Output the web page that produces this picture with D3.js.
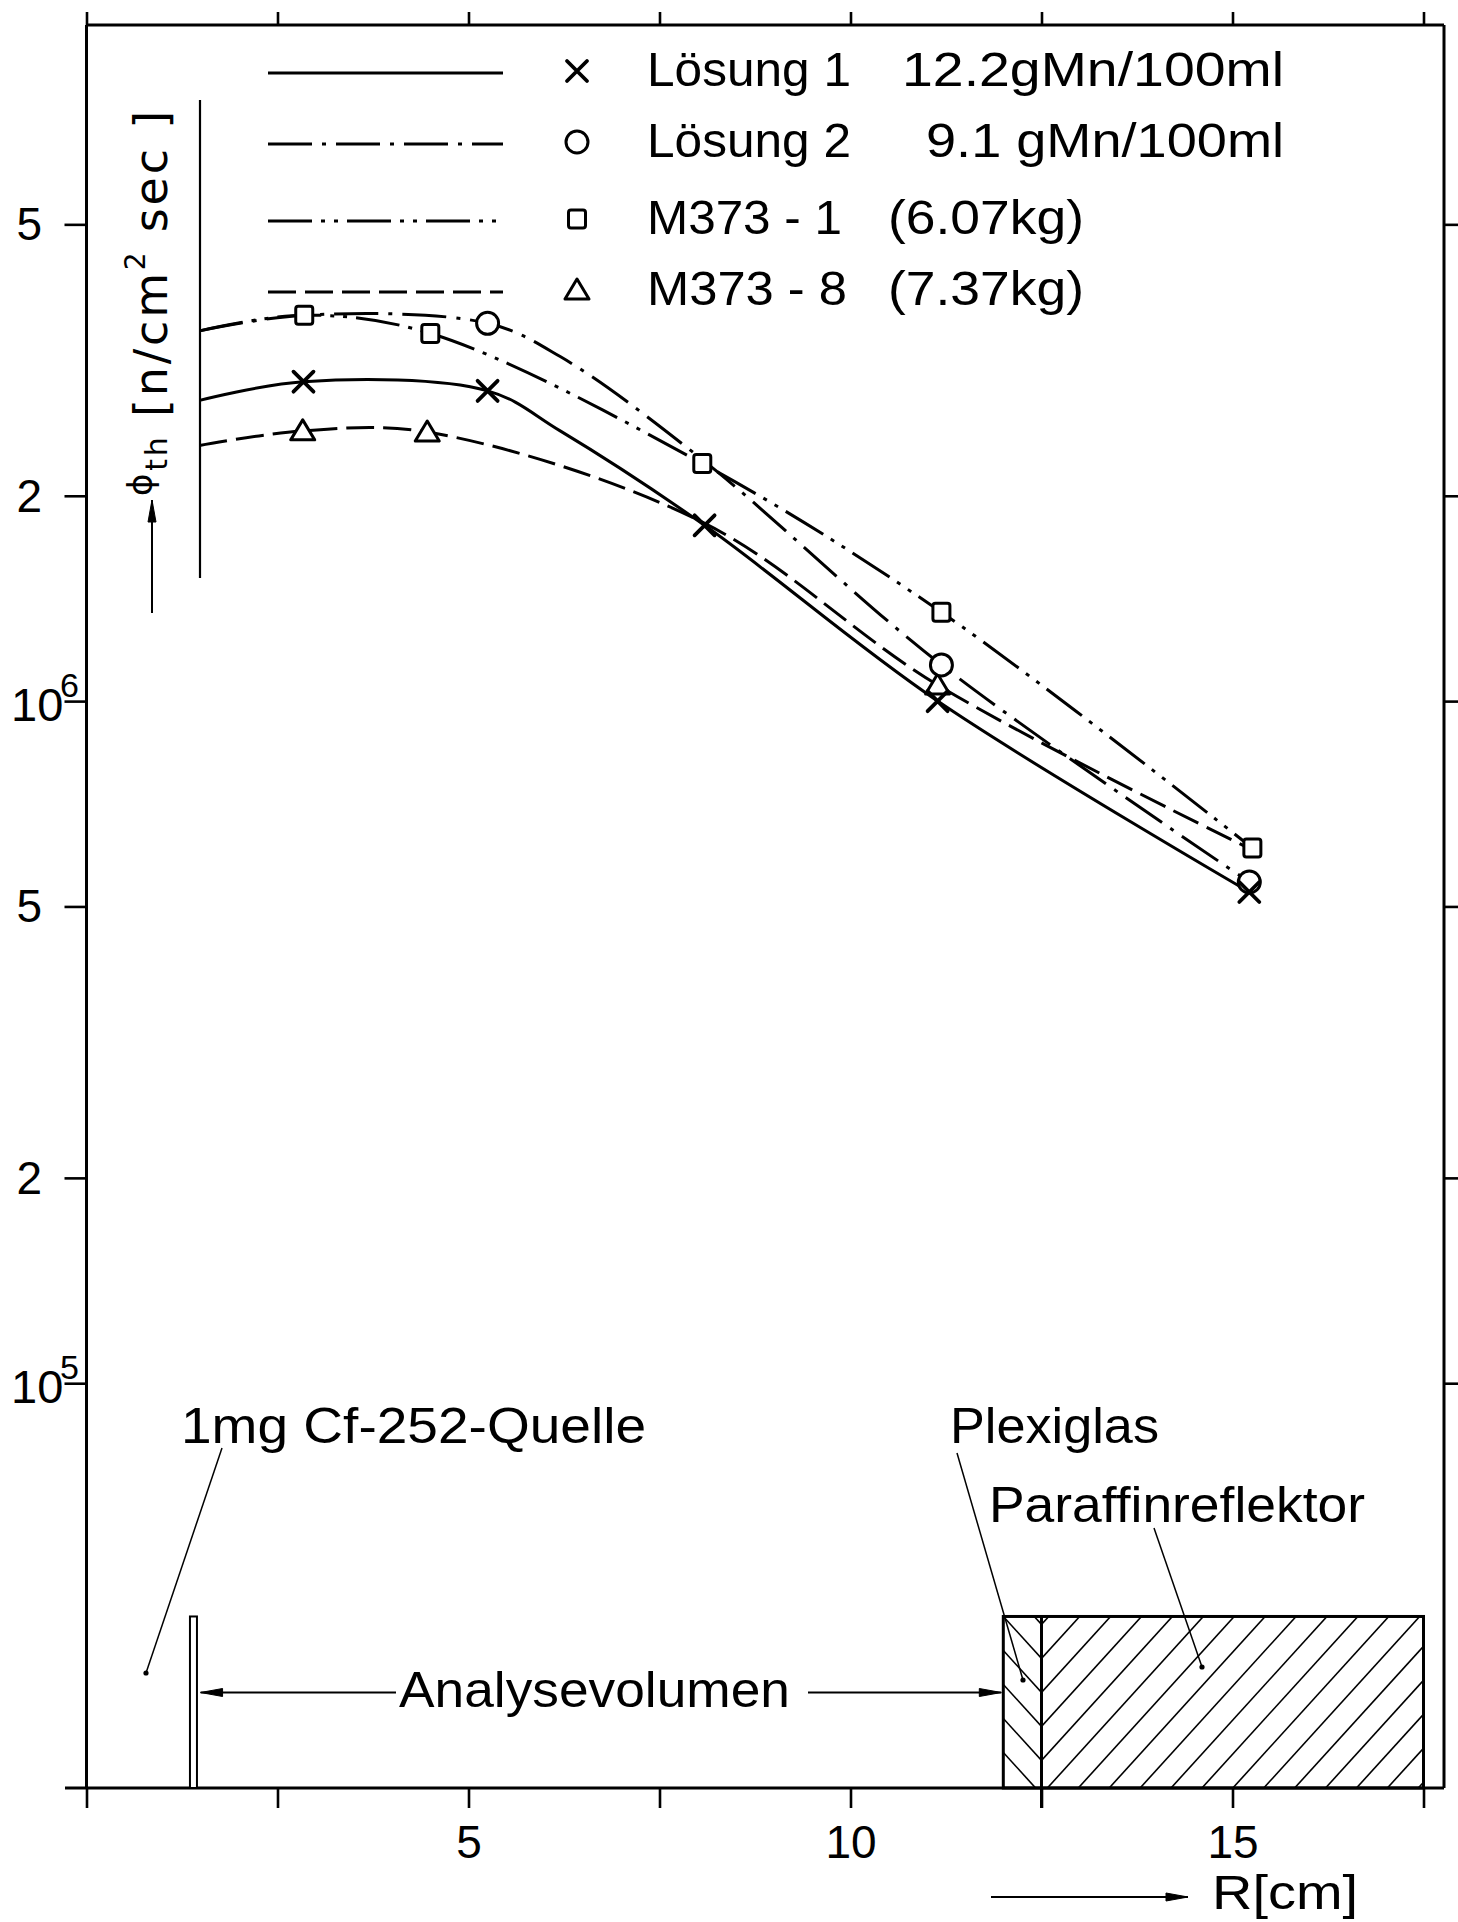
<!DOCTYPE html>
<html>
<head>
<meta charset="utf-8">
<script src="https://cdn.jsdelivr.net/npm/d3@7"></script>
<style>
  html, body { margin: 0; padding: 0; background: #ffffff; }
  svg { display: block; }
</style>
</head>
<body>
<svg id="chart" width="1458" height="1922"></svg>
<script>
// ------------------------------------------------------------------
// DATA
// ------------------------------------------------------------------
const xTicks = [0, 2.5, 5, 7.5, 10, 12.5, 15, 17.5];
const xTickLabels = ["", "", "5", "", "10", "", "15", ""];
const yTicks = [5e6, 2e6, 1e6, 5e5, 2e5, 1e5];
const yTickBase = ["5", "2", "10", "5", "2", "10"];
const yTickExp  = ["", "", "6", "", "", "5"];

const seriesNames = ["Lösung 1", "Lösung 2", "M373 - 1", "M373 - 8"];
const seriesNotes = ["12.2gMn/100ml", "9.1 gMn/100ml", "(6.07kg)", "(7.37kg)"];
const seriesMarkers = ["x", "o", "s", "t"];

// smooth curve support points  [R in cm, flux n/cm2 sec]
const loesung1Curve = [[1.48, 2.76e6], [2.84, 2.94e6], [5.25, 2.85e6], [6.2, 2.49e6], [8.09, 1.81e6], [11.14, 1.00e6], [15.22, 5.25e5]];
const loesung2Curve = [[1.48, 3.49e6], [2.85, 3.68e6], [5.25, 3.58e6], [6.2, 3.2e6], [8.06, 2.26e6], [11.19, 1.13e6], [15.22, 5.43e5]];
const m373_1Curve   = [[1.48, 3.49e6], [2.85, 3.68e6], [4.50, 3.46e6], [8.06, 2.23e6], [11.19, 1.35e6], [15.26, 6.09e5]];
const m373_8Curve   = [[1.48, 2.37e6], [2.83, 2.49e6], [4.46, 2.48e6], [8.06, 1.83e6], [11.14, 1.056e6], [15.26, 6.05e5]];

// measured points (markers)
const loesung1Points = [[2.84, 2.94e6], [5.25, 2.85e6], [8.09, 1.81e6], [11.14, 1.00e6], [15.22, 5.25e5]];
const loesung2Points = [[5.25, 3.58e6], [11.19, 1.13e6], [15.22, 5.43e5]];
const m373_1Points   = [[2.85, 3.68e6], [4.50, 3.46e6], [8.06, 2.23e6], [11.19, 1.35e6], [15.26, 6.09e5]];
const m373_8Points   = [[2.83, 2.49e6], [4.46, 2.48e6], [11.14, 1.056e6]];

// geometry annotations (in data units)
const sourceR = 1.40;
const analysisFromR = 1.48, analysisToR = 12.0;
const plexiglasR = [12.0, 12.5];
const paraffinR = [12.5, 17.5];
const structureTop = 4.55e4;
const analysisLevel = 3.52e4;

// ------------------------------------------------------------------
// LAYOUT
// ------------------------------------------------------------------
const svg = d3.select("#chart");
const FONT = "'Liberation Sans', Arial, sans-serif";
const yMin = 2.55e4, yMax = 9.8e6;
const x = d3.scaleLinear().domain([0, 17.5]).range([86.5, 1423.5]);
const y = d3.scaleLog().domain([yMin, yMax]).range([1788, 25]);
const frameLeft = x(0), frameRight = 1444, frameTop = y(yMax), frameBottom = y(yMin);

// ------------------------------------------------------------------
// AXES
// ------------------------------------------------------------------
function styleAxis(g) {
  g.select(".domain").remove();
  g.selectAll(".tick line").attr("stroke", "#000").attr("stroke-width", 2.6);
}

const gBottom = svg.append("g").attr("transform", `translate(0,${frameBottom})`)
  .call(d3.axisBottom(x).tickValues(xTicks).tickSize(20).tickPadding(17)
    .tickFormat((d, i) => xTickLabels[i]));
styleAxis(gBottom);
gBottom.selectAll(".tick text").attr("font-family", FONT).attr("font-size", 46).attr("fill", "#000");

const gTop = svg.append("g").attr("transform", `translate(0,${frameTop})`)
  .call(d3.axisTop(x).tickValues(xTicks).tickSize(13).tickFormat(""));
styleAxis(gTop);

const gLeft = svg.append("g").attr("transform", `translate(${frameLeft},0)`)
  .call(d3.axisLeft(y).tickValues(yTicks).tickSize(22).tickFormat(""));
styleAxis(gLeft);

const gRight = svg.append("g").attr("transform", `translate(${frameRight},0)`)
  .call(d3.axisRight(y).tickValues(yTicks).tickSize(14).tickFormat(""));
styleAxis(gRight);

// y tick labels with superscript exponents
yTicks.forEach((v, i) => {
  const ty = y(v);
  if (yTickExp[i] === "") {
    svg.append("text").attr("x", 42).attr("y", ty + 16)
      .attr("text-anchor", "end").attr("font-family", FONT).attr("font-size", 46)
      .text(yTickBase[i]);
  } else {
    svg.append("text").attr("x", 11).attr("y", ty + 20)
      .attr("font-family", FONT).attr("font-size", 47).text(yTickBase[i]);
    svg.append("text").attr("x", 60).attr("y", ty - 4)
      .attr("font-family", FONT).attr("font-size", 34).text(yTickExp[i]);
  }
});

// frame
const frame = svg.append("g").attr("stroke", "#000").attr("stroke-width", 3).attr("fill", "none");
frame.append("line").attr("x1", frameLeft).attr("x2", frameLeft).attr("y1", frameTop).attr("y2", frameBottom);
frame.append("line").attr("x1", frameRight).attr("x2", frameRight).attr("y1", frameTop).attr("y2", frameBottom);
frame.append("line").attr("x1", frameLeft).attr("x2", frameRight).attr("y1", frameTop).attr("y2", frameTop);
frame.append("line").attr("x1", 65).attr("x2", frameRight).attr("y1", frameBottom).attr("y2", frameBottom);

// ------------------------------------------------------------------
// ARROW HELPER
// ------------------------------------------------------------------
function arrowHead(x1, y1, x2, y2, len, half) {
  const a = Math.atan2(y2 - y1, x2 - x1);
  const bx = x2 - len * Math.cos(a), by = y2 - len * Math.sin(a);
  const px = -Math.sin(a) * half, py = Math.cos(a) * half;
  svg.append("path")
    .attr("d", `M${x2},${y2}L${bx + px},${by + py}L${bx - px},${by - py}Z`)
    .attr("fill", "#000").attr("stroke", "#000").attr("stroke-width", 1);
}
function arrow(x1, y1, x2, y2, w) {
  svg.append("line").attr("x1", x1).attr("y1", y1).attr("x2", x2).attr("y2", y2)
    .attr("stroke", "#000").attr("stroke-width", w || 2);
  arrowHead(x1, y1, x2, y2, 22, 4);
}

// ------------------------------------------------------------------
// Y AXIS TITLE
// ------------------------------------------------------------------
svg.append("line").attr("x1", 200).attr("x2", 200).attr("y1", 100).attr("y2", 578)
  .attr("stroke", "#000").attr("stroke-width", 2.2);
arrow(152, 613, 152, 500, 2);
const yl = svg.append("text").attr("transform", "translate(167,496) rotate(-90)")
  .attr("font-family", "'DejaVu Sans', sans-serif").attr("font-size", 46).attr("letter-spacing", 2.8);
yl.append("tspan").attr("font-size", 34).attr("dy", -15).text("ϕ");
yl.append("tspan").attr("font-size", 30).attr("dy", 15).text("th");
yl.append("tspan").text(" [n/cm");
yl.append("tspan").attr("font-size", 28).attr("dy", -22).text("2");
yl.append("tspan").attr("dy", 22).text(" sec ]");

// X axis title
arrow(991, 1897, 1188, 1897, 2);
svg.append("text").attr("x", 1212).attr("y", 1909).attr("font-family", FONT)
  .attr("font-size", 49).attr("textLength", 146).attr("lengthAdjust", "spacingAndGlyphs").text("R[cm]");

// ------------------------------------------------------------------
// CURVES
// ------------------------------------------------------------------
const line = d3.line().x(d => x(d[0])).y(d => y(d[1])).curve(d3.curveCatmullRom.alpha(0.5));
const dashStyles = [null, "44,10,4,10", "44,9,4,9,4,9", "28,9"];
const curves = [loesung1Curve, loesung2Curve, m373_1Curve, m373_8Curve];
const points = [loesung1Points, loesung2Points, m373_1Points, m373_8Points];

curves.forEach((c, i) => {
  svg.append("path").attr("d", line(c)).attr("fill", "none").attr("stroke", "#000")
    .attr("stroke-width", 3).attr("stroke-dasharray", dashStyles[i]);
});

function drawMarker(type, cx, cy) {
  const g = svg.append("g").attr("stroke", "#000").attr("stroke-width", 3).attr("fill", "#fff");
  if (type === "x") {
    g.append("path").attr("d", `M${cx - 10},${cy - 10}L${cx + 10},${cy + 10}M${cx - 10},${cy + 10}L${cx + 10},${cy - 10}`)
      .attr("stroke-width", 3.8).attr("stroke-linecap", "round");
  } else if (type === "o") {
    g.append("circle").attr("cx", cx).attr("cy", cy).attr("r", 11);
  } else if (type === "s") {
    g.append("rect").attr("x", cx - 8.5).attr("y", cy - 9).attr("width", 17).attr("height", 18).attr("rx", 2.5);
  } else if (type === "t") {
    g.append("path").attr("d", `M${cx},${cy - 11}L${cx + 12},${cy + 9}L${cx - 12},${cy + 9}Z`)
      .attr("stroke-linejoin", "round");
  }
}
[3, 2, 1, 0].forEach(i => {
  points[i].forEach(p => drawMarker(seriesMarkers[i], x(p[0]), y(p[1])));
});

// ------------------------------------------------------------------
// LEGEND
// ------------------------------------------------------------------
const legendRowY = [71, 142, 219, 290];
const legendNameLen = [204, 204, 195, 200];
const legendNoteX = [902, 926, 888, 888];
const legendNoteLen = [382, 358, 196, 196];
seriesNames.forEach((name, i) => {
  const ry = legendRowY[i];
  svg.append("line").attr("x1", 268).attr("x2", 503).attr("y1", ry + 2).attr("y2", ry + 2)
    .attr("stroke", "#000").attr("stroke-width", 3).attr("stroke-dasharray", dashStyles[i]);
  drawMarker(seriesMarkers[i], 577, ry);
  svg.append("text").attr("x", 647).attr("y", ry + 15).attr("font-family", FONT).attr("font-size", 49)
    .attr("textLength", legendNameLen[i]).attr("lengthAdjust", "spacingAndGlyphs").text(name);
  svg.append("text").attr("x", legendNoteX[i]).attr("y", ry + 15).attr("font-family", FONT).attr("font-size", 49)
    .attr("textLength", legendNoteLen[i]).attr("lengthAdjust", "spacingAndGlyphs").text(seriesNotes[i]);
});

// ------------------------------------------------------------------
// GEOMETRY SKETCH (source, analysis volume, plexiglas, paraffin)
// ------------------------------------------------------------------
const sTop = y(structureTop);
// source
svg.append("rect").attr("x", x(sourceR) - 3.5).attr("y", sTop).attr("width", 7).attr("height", frameBottom - sTop)
  .attr("fill", "#fff").attr("stroke", "#000").attr("stroke-width", 2);

// analysis volume arrows
const aY = y(analysisLevel);
arrow(396, aY, x(analysisFromR) + 1, aY, 2);
arrow(808, aY, x(analysisToR) - 2, aY, 2);

// hatching
const defs = svg.append("defs");
const pxL = x(plexiglasR[0]), pxR = x(plexiglasR[1]), paR = x(paraffinR[1]);
defs.append("clipPath").attr("id", "clipPlexi").append("rect")
  .attr("x", pxL).attr("y", sTop).attr("width", pxR - pxL).attr("height", frameBottom - sTop);
defs.append("clipPath").attr("id", "clipPara").append("rect")
  .attr("x", pxR).attr("y", sTop).attr("width", paR - pxR).attr("height", frameBottom - sTop);
const hatchP = svg.append("g").attr("clip-path", "url(#clipPlexi)").attr("stroke", "#000").attr("stroke-width", 1.6);
const hatchA = svg.append("g").attr("clip-path", "url(#clipPara)").attr("stroke", "#000").attr("stroke-width", 1.6);
const slope = 1.1, step = 34;
for (let yd = sTop + 8; yd < frameBottom + (paR - pxR) * slope + step; yd += step) {
  hatchA.append("line").attr("x1", pxR).attr("y1", yd).attr("x2", pxR + 600).attr("y2", yd - 600 * slope);
  hatchP.append("line").attr("x1", pxR).attr("y1", yd).attr("x2", pxR - 100).attr("y2", yd - 100 * slope);
}
const box = svg.append("g").attr("stroke", "#000").attr("stroke-width", 3).attr("fill", "none");
box.append("rect").attr("x", pxL).attr("y", sTop).attr("width", paR - pxL).attr("height", frameBottom - sTop);
box.append("line").attr("x1", pxR).attr("x2", pxR).attr("y1", sTop).attr("y2", frameBottom + 20);

// leaders
function leader(x1, y1, x2, y2) {
  svg.append("line").attr("x1", x1).attr("y1", y1).attr("x2", x2).attr("y2", y2)
    .attr("stroke", "#000").attr("stroke-width", 1.5);
  svg.append("circle").attr("cx", x2).attr("cy", y2).attr("r", 2.6).attr("fill", "#000");
}
leader(222, 1448, 146, 1673);
leader(957, 1453, 1023, 1680);
leader(1154, 1528, 1202, 1667);

// annotation texts
function label(txt, lx, ly, len) {
  svg.append("text").attr("x", lx).attr("y", ly).attr("font-family", FONT).attr("font-size", 50)
    .attr("textLength", len).attr("lengthAdjust", "spacingAndGlyphs").text(txt);
}
label("1mg Cf-252-Quelle", 181, 1443, 465);
label("Plexiglas", 950, 1443, 209);
label("Paraffinreflektor", 989, 1522, 376);
label("Analysevolumen", 399, 1707, 391);
</script>
</body>
</html>
